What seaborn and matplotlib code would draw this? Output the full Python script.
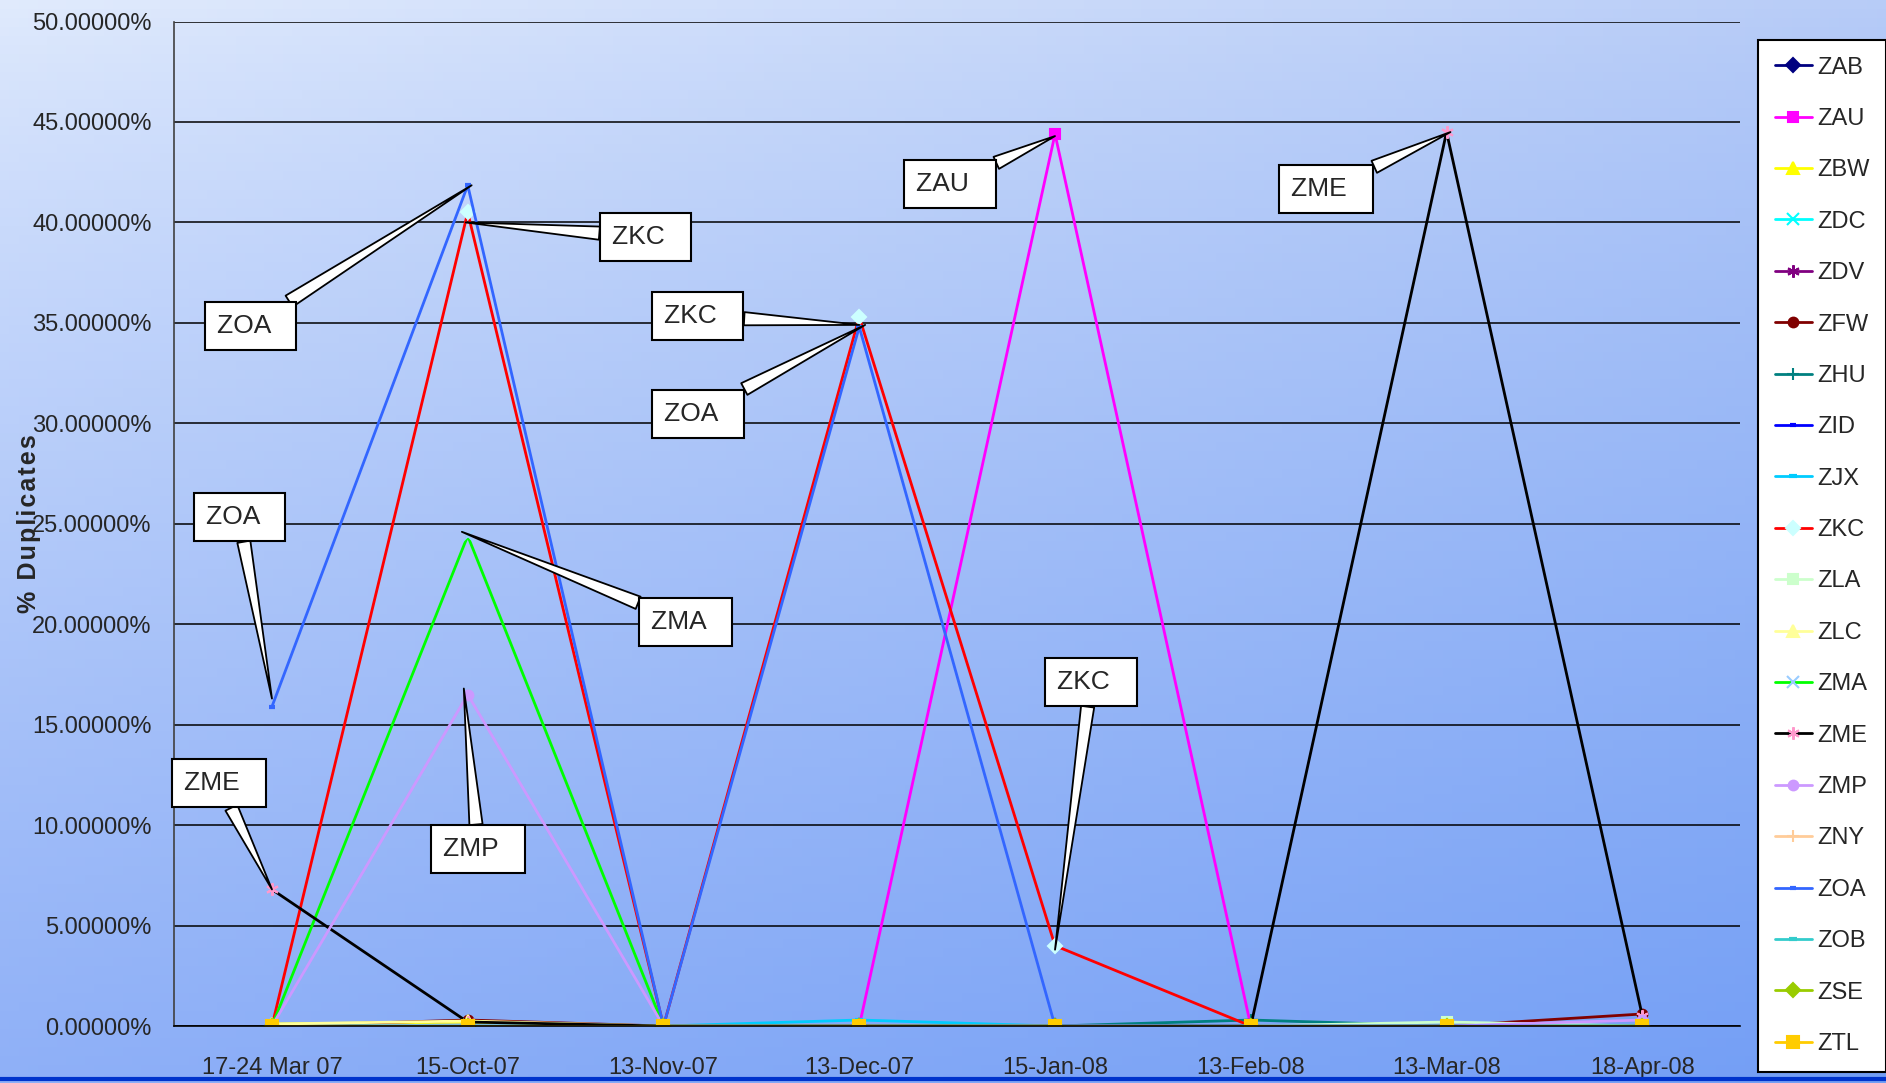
import numpy as np
import matplotlib
matplotlib.use("Agg")
import matplotlib.pyplot as plt
from matplotlib.lines import Line2D
import seaborn as sns

# =========================
# DATA
# =========================
dates = ["17-24 Mar 07", "15-Oct-07", "13-Nov-07", "13-Dec-07",
         "15-Jan-08", "13-Feb-08", "13-Mar-08", "18-Apr-08"]

ZAB = [0, 0, 0, 0, 0, 0, 0, 0]
ZAU = [0, 0, 0, 0, 44.4, 0, 0, 0]
ZBW = [0.1, 0.2, 0, 0, 0, 0, 0, 0]
ZDC = [0, 0, 0, 0, 0, 0, 0, 0]
ZDV = [0, 0, 0, 0, 0, 0, 0, 0]
ZFW = [0, 0.3, 0, 0, 0, 0, 0, 0.6]
ZHU = [0, 0, 0, 0, 0, 0.3, 0, 0]
ZID = [0, 0, 0, 0, 0, 0, 0, 0]
ZJX = [0, 0, 0, 0.3, 0, 0, 0, 0]
ZKC = [0, 40.5, 0, 35.3, 4.0, 0, 0, 0]
ZLA = [0, 0, 0, 0, 0, 0, 0.2, 0]
ZLC = [0.1, 0.25, 0, 0, 0, 0, 0, 0]
ZMA = [0, 24.4, 0, 0, 0, 0, 0, 0]
ZME = [6.8, 0.2, 0, 0, 0, 0, 44.5, 0.5]
ZMP = [0, 16.5, 0, 0, 0, 0, 0, 0.3]
ZNY = [0, 0, 0, 0, 0, 0, 0, 0]
ZOA = [15.9, 41.85, 0, 34.8, 0, 0, 0, 0]
ZOB = [0, 0, 0, 0, 0, 0, 0, 0]
ZSE = [0, 0, 0, 0, 0, 0, 0, 0]
ZTL = [0, 0, 0, 0, 0, 0, 0, 0]

series = {
    "ZAB": ZAB, "ZAU": ZAU, "ZBW": ZBW, "ZDC": ZDC, "ZDV": ZDV,
    "ZFW": ZFW, "ZHU": ZHU, "ZID": ZID, "ZJX": ZJX, "ZKC": ZKC,
    "ZLA": ZLA, "ZLC": ZLC, "ZMA": ZMA, "ZME": ZME, "ZMP": ZMP,
    "ZNY": ZNY, "ZOA": ZOA, "ZOB": ZOB, "ZSE": ZSE, "ZTL": ZTL,
}

# line colour, marker, marker colour, marker size
styles = {
    "ZAB": ("#000080", "D", "#000080", 7),
    "ZAU": ("#FF00FF", "s", "#FF00FF", 7),
    "ZBW": ("#FFFF00", "^", "#FFFF00", 8),
    "ZDC": ("#00FFFF", "x", "#00FFFF", 8),
    "ZDV": ("#800080", (6, 2, 0), "#800080", 9),
    "ZFW": ("#800000", "o", "#800000", 7),
    "ZHU": ("#008080", "+", "#008080", 9),
    "ZID": ("#0000FF", "_", "#0000FF", 5),
    "ZJX": ("#00CCFF", "_", "#00CCFF", 6),
    "ZKC": ("#FF0000", "D", "#CCFFFF", 7),
    "ZLA": ("#CCFFCC", "s", "#CCFFCC", 7),
    "ZLC": ("#FFFF99", "^", "#FFFF99", 8),
    "ZMA": ("#00FF00", "x", "#99CCFF", 8),
    "ZME": ("#000000", (6, 2, 0), "#FF99CC", 9),
    "ZMP": ("#CC99FF", "o", "#CC99FF", 7),
    "ZNY": ("#FFCC99", "+", "#FFCC99", 9),
    "ZOA": ("#3366FF", "_", "#3366FF", 5),
    "ZOB": ("#33CCCC", "_", "#33CCCC", 6),
    "ZSE": ("#99CC00", "D", "#99CC00", 7),
    "ZTL": ("#FFCC00", "s", "#FFCC00", 9),
}

# callouts: label, point (x, y), text top-left (x, y)
callout_labels = ["ZOA", "ZKC", "ZKC", "ZOA", "ZAU", "ZME",
                  "ZOA", "ZMA", "ZMP", "ZME", "ZKC"]
callout_points = [(1.02, 41.85), (0.99, 40.0), (3.0, 34.9), (3.03, 34.9),
                  (4.0, 44.3), (6.02, 44.5), (0.0, 16.3), (0.97, 24.6),
                  (0.98, 16.8), (0.0, 6.8), (4.0, 3.8)]
callout_text = [(-0.283, 35.45), (1.737, 39.88), (2.003, 35.93), (2.003, 31.08),
                (3.290, 42.51), (5.206, 42.28), (-0.339, 25.93), (1.935, 20.72),
                (0.875, 9.40), (-0.450, 12.69), (4.011, 17.72)]

# =========================
# STYLE
# =========================
sns.set_style("white")
plt.rcParams["font.family"] = ["Liberation Sans Narrow", "Liberation Sans", "DejaVu Sans"]

fig = plt.figure(figsize=(18.86, 10.83), dpi=100)

# background gradient (sky / sea picture)
bg = fig.add_axes([0, 0, 1, 1], zorder=-10)
H, W = 120, 200
yy, xx = np.mgrid[0:H, 0:W]
ty = (yy / (H - 1)) ** 0.8
tx = xx / (W - 1)
tl = np.array([0.88, 0.92, 0.99])
tr = np.array([0.72, 0.80, 0.97])
bl = np.array([0.56, 0.69, 0.97])
br = np.array([0.45, 0.62, 0.96])
img = ((1 - ty)[..., None] * ((1 - tx)[..., None] * tl + tx[..., None] * tr)
       + ty[..., None] * ((1 - tx)[..., None] * bl + tx[..., None] * br))
bg.imshow(np.clip(img, 0, 1), aspect="auto", extent=[0, 1, 0, 1])
bg.axis("off")

ax = fig.add_axes([0.0923, 0.0526, 0.8304, 0.9275])
ax.set_facecolor("none")

# =========================
# LINES
# =========================
xpos = np.arange(len(dates))
for name, vals in series.items():
    lc, mk, mc, ms = styles[name]
    sns.lineplot(
        x=xpos, y=vals, ax=ax, color=lc, lw=2, sort=False,
        marker=mk, markersize=ms, markerfacecolor=mc, markeredgecolor=mc,
        markeredgewidth=3 if mk == "_" else 1.5, label=name
    )

# =========================
# AXES
# =========================
ax.set_xlim(-0.5, len(dates) - 0.5)
ax.set_ylim(0, 50)
ax.set_yticks(np.arange(0, 50.1, 5))
ax.set_yticklabels([f"{v:.5f}%" for v in np.arange(0, 50.1, 5)], fontsize=17)
ax.set_xticks(xpos)
ax.set_xticklabels(dates, fontsize=17)
ax.set_xticks(np.arange(-0.5, len(dates), 1), minor=True)
ax.tick_params(axis="x", which="major", length=0, pad=22)
ax.tick_params(axis="x", which="minor", length=9, width=1.2, color="black", direction="out")
ax.tick_params(axis="y", length=9, width=1.2, color="black", direction="out", pad=7)
ax.grid(axis="y", color="black", lw=1.1)
ax.set_axisbelow(True)
ax.spines["right"].set_visible(False)
ax.spines["top"].set_visible(False)
ax.spines["left"].set_color("#404040")
ax.spines["left"].set_linewidth(1.2)
ax.spines["bottom"].set_color("black")
ax.spines["bottom"].set_linewidth(1.2)

ylab = "\u200a".join("% Duplicates")
ax.set_ylabel(ylab, fontsize=18, fontweight="bold",
              family=["Liberation Sans", "DejaVu Sans"])
ax.yaxis.set_label_coords(-0.085, 0.5)
ax.set_xlabel("")

# =========================
# CALLOUTS
# =========================
for lab, pt, tp in zip(callout_labels, callout_points, callout_text):
    ax.annotate(
        lab + "  ", xy=pt, xytext=tp, textcoords="data",
        ha="left", va="top", fontsize=19, zorder=5,
        bbox=dict(boxstyle="square,pad=0.45", fc="white", ec="black", lw=1.5),
        arrowprops=dict(arrowstyle="wedge,tail_width=0.5,shrink_factor=0.5",
                        fc="white", ec="black", lw=1.3,
                        shrinkA=0, shrinkB=0),
    )

# =========================
# LEGEND
# =========================
handles, labels = ax.get_legend_handles_labels()
leg = fig.legend(
    handles, labels, loc="upper left",
    bbox_to_anchor=(1758 / 1886, 1 - 40 / 1083),
    fontsize=17, frameon=True, fancybox=False, framealpha=1,
    edgecolor="black", handlelength=1.6, handletextpad=0.2,
    labelspacing=1.245, borderpad=0.7, borderaxespad=0,
)
leg.get_frame().set_linewidth(1.5)
if ax.get_legend() is not None:
    ax.get_legend().remove()

# bottom slide line and date
fig.add_artist(Line2D([0, 1], [0.0035, 0.0035], transform=fig.transFigure,
                      color="#0033CC", lw=3))
fig.text(0.052, -0.001, "2/28/08", color="white", fontsize=22, va="top")

fig.savefig("out.png", dpi=100)
